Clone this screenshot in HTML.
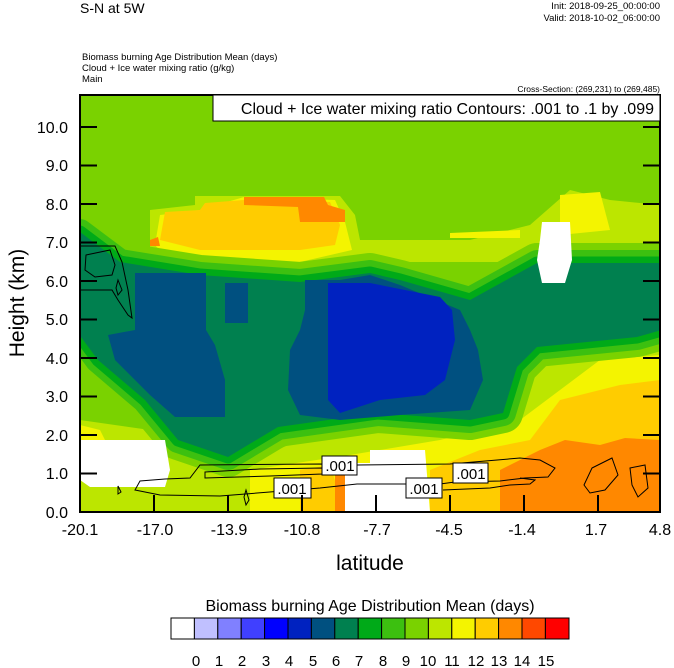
<!DOCTYPE html>
<html><head><meta charset="utf-8"><style>
html,body{margin:0;padding:0;background:#fff}
svg{display:block;font-family:"Liberation Sans",sans-serif}
</style></head><body>
<svg width="674" height="668" viewBox="0 0 674 668" xmlns="http://www.w3.org/2000/svg">
<text x="80" y="13" font-size="14">S-N at 5W</text>
<text x="660" y="9" font-size="9.5" text-anchor="end">Init: 2018-09-25_00:00:00</text>
<text x="660" y="21" font-size="9.5" text-anchor="end">Valid: 2018-10-02_06:00:00</text>
<text x="82" y="60" font-size="9.5">Biomass burning Age Distribution Mean   (days)</text>
<text x="82" y="71" font-size="9.5">Cloud + Ice water mixing ratio   (g/kg)</text>
<text x="82" y="82" font-size="9.5">Main</text>
<text x="660" y="92" font-size="8.5" text-anchor="end">Cross-Section: (269,231) to (269,485)</text>
<defs><clipPath id="c"><rect x="80" y="95" width="580" height="417"/></clipPath></defs>
<g clip-path="url(#c)">
<rect x="80" y="95" width="580" height="417" fill="#7ad200"/>
<!-- upper warm region -->
<path d="M150,240 L150,210 L195,205 L195,196 L340,196 L355,215 L360,240 L470,240 L530,225 L570,190 L610,200 L660,205 L660,262 L150,262Z" fill="#bce600"/>
<path d="M155,245 L160,215 L200,210 L244,197 L335,200 L345,222 L352,250 L300,262 L170,262Z" fill="#f4f400"/>
<path d="M160,240 L165,212 L200,210 L205,203 L244,200 L330,202 L340,225 L335,245 L300,250 L200,250Z" fill="#ffcc00"/>
<path d="M244,197 L324,197 L328,205 L345,210 L345,222 L300,222 L298,207 L244,205Z" fill="#ff8800"/>
<path d="M150,240 L158,237 L160,246 L150,246Z" fill="#ff8800"/>
<path d="M450,233 L520,230 L520,238 L450,238Z" fill="#f4f400"/>
<path d="M560,195 L600,192 L610,230 L560,235Z" fill="#f4f400"/>
<!-- lower warm region -->
<path d="M80,420 L150,430 L230,470 L300,440 L400,430 L450,380 L520,380 L600,330 L660,320 L660,512 L80,512Z" fill="#bce600"/>
<path d="M80,425 L100,430 L110,450 L80,450Z" fill="#f4f400"/>
<path d="M250,470 L350,455 L440,440 L520,420 L600,360 L660,355 L660,512 L250,512Z" fill="#f4f400"/>
<path d="M300,470 L330,465 L345,512 L300,512Z" fill="#ffcc00"/>
<path d="M430,470 L480,450 L530,440 L560,400 L620,385 L660,380 L660,512 L430,512Z" fill="#ffcc00"/>
<path d="M500,470 L540,450 L565,440 L600,445 L625,438 L660,440 L660,512 L500,512Z" fill="#ff8800"/>
<path d="M335,470 L345,468 L345,512 L335,512Z" fill="#ff8800"/>
<!-- teal blob with green bands -->
<g stroke-linejoin="round">
<path id="t" d="M80,232 L120,262 L200,275 L300,282 L370,273 L400,280 L470,300 L537,263 L600,263 L662,263 L662,330 L637,337 L537,347 L517,367 L503,413 L470,420 L378,413 L278,427 L228,457 L178,440 L145,400 L98,360 L78,333Z" fill="#7ad200" stroke="#7ad200" stroke-width="40"/>
<path d="M80,232 L120,262 L200,275 L300,282 L370,273 L400,280 L470,300 L537,263 L600,263 L662,263 L662,330 L637,337 L537,347 L517,367 L503,413 L470,420 L378,413 L278,427 L228,457 L178,440 L145,400 L98,360 L78,333Z" fill="#3cc010" stroke="#3cc010" stroke-width="26"/>
<path d="M80,232 L120,262 L200,275 L300,282 L370,273 L400,280 L470,300 L537,263 L600,263 L662,263 L662,330 L637,337 L537,347 L517,367 L503,413 L470,420 L378,413 L278,427 L228,457 L178,440 L145,400 L98,360 L78,333Z" fill="#00aa18" stroke="#00aa18" stroke-width="13"/>
<path d="M80,232 L120,262 L200,275 L300,282 L370,273 L400,280 L470,300 L537,263 L600,263 L662,263 L662,330 L637,337 L537,347 L517,367 L503,413 L470,420 L378,413 L278,427 L228,457 L178,440 L145,400 L98,360 L78,333Z" fill="#00804f"/>
</g>
<!-- light band at bottom left -->
<path d="M80,440 L165,440 L170,470 L165,487 L90,487 L80,480Z" fill="#fff"/>
<path d="M345,463 L378,463 L378,512 L345,512Z" fill="#fff"/>
<path d="M370,450 L425,450 L430,512 L370,512Z" fill="#fff"/>
<!-- blue blobs -->
<path d="M135,273 L206,273 L206,330 L215,345 L225,380 L225,417 L175,417 L150,395 L115,360 L108,335 L135,330Z" fill="#005080"/>
<path d="M225,283 L248,283 L248,323 L225,323Z" fill="#005080"/>
<path d="M175,285 L195,285 L195,318 L175,318Z" fill="#005080"/>
<path d="M305,280 L340,280 L370,275 L400,285 L460,310 L470,330 L478,350 L483,380 L470,410 L400,415 L340,420 L300,415 L288,390 L290,350 L300,330 L305,310Z" fill="#005080"/>
<path d="M328,283 L370,283 L440,297 L452,310 L455,340 L445,380 L425,395 L380,400 L340,413 L328,400Z" fill="#0022c0"/>
<!-- white blob -->
<path d="M542,222 L570,222 L572,260 L565,283 L542,283 L537,260 L540,240Z" fill="#fff"/>
<!-- contours -->
<g fill="none" stroke="#000" stroke-width="1">
<path d="M80,246 L115,246 L122,262 L128,290 L132,318 L128,315 L118,300 L112,290 L80,290"/>
<path d="M86,255 L110,250 L115,265 L112,275 L95,277 L85,270Z"/>
<path d="M118,280 L122,290 L118,295 L116,288Z"/>
<path d="M200,465 L320,464 L357,465 L450,464 L520,458 L540,460 L555,468 L548,477 L525,478 L500,481 L455,482 L440,484 L357,484 L320,488 L220,496 L160,495 L135,490 L140,481 L165,479 L190,478 L200,465Z"/>
<path d="M205,472 L260,469 L322,468 L322,474 L270,476 L205,478Z"/>
<path d="M443,490 L490,488 L510,485 L530,484 L535,480 L520,478"/>
<path d="M592,468 L612,458 L618,475 L605,490 L590,493 L584,485Z"/>
<path d="M630,468 L645,465 L648,488 L638,497 L632,485Z"/>
<path d="M246,490 L249,500 L246,505 L244,497Z"/>
<path d="M118,486 L121,492 L118,494Z"/>
<path d="M660,400 L663,410 L660,418"/>
</g>
<g font-size="15" text-anchor="middle">
<rect x="322" y="456" width="35" height="19" fill="#fff" stroke="#000"/><text x="340" y="471">.001</text>
<rect x="274" y="478" width="37" height="20" fill="#fff" stroke="#000"/><text x="292" y="494">.001</text>
<rect x="406" y="478" width="36" height="20" fill="#fff" stroke="#000"/><text x="424" y="494">.001</text>
<rect x="453" y="463" width="35" height="20" fill="#fff" stroke="#000"/><text x="471" y="479">.001</text>
</g>
</g>
<rect x="80" y="95" width="580" height="417" fill="none" stroke="#000" stroke-width="2"/>
<rect x="213" y="95" width="447" height="26" fill="#fff" stroke="#000" stroke-width="1"/>
<text x="654" y="114" font-size="16" text-anchor="end">Cloud + Ice water mixing ratio Contours: .001 to .1 by .099</text>
<!-- y ticks -->
<g stroke="#000" stroke-width="2">
<path d="M80,512h17M80,473.5h17M80,435h17M80,396.5h17M80,358h17M80,319.5h17M80,281h17M80,242.5h17M80,204h17M80,165.5h17M80,127h17"/>
<path d="M660,512h-17M660,473.5h-17M660,435h-17M660,396.5h-17M660,358h-17M660,319.5h-17M660,281h-17M660,242.5h-17M660,204h-17M660,165.5h-17M660,127h-17"/>
<path d="M154,512v-17M228,512v-17M302,512v-17M376,512v-17M450,512v-17M524,512v-17M598,512v-17"/>
</g>
<g font-size="16" text-anchor="end">
<text x="68" y="518">0.0</text><text x="68" y="479">1.0</text><text x="68" y="441">2.0</text>
<text x="68" y="402">3.0</text><text x="68" y="364">4.0</text><text x="68" y="325">5.0</text>
<text x="68" y="287">6.0</text><text x="68" y="248">7.0</text><text x="68" y="210">8.0</text>
<text x="68" y="171">9.0</text><text x="68" y="133">10.0</text>
</g>
<g font-size="16" text-anchor="middle">
<text x="80" y="535">-20.1</text><text x="155" y="535">-17.0</text><text x="229" y="535">-13.9</text>
<text x="302" y="535">-10.8</text><text x="377" y="535">-7.7</text><text x="449" y="535">-4.5</text>
<text x="522" y="535">-1.4</text><text x="596" y="535">1.7</text><text x="660" y="535">4.8</text>
</g>
<text x="370" y="570" font-size="21" text-anchor="middle">latitude</text>
<text transform="translate(24,303) rotate(-90)" font-size="21" text-anchor="middle">Height (km)</text>
<text x="370" y="611" font-size="16" text-anchor="middle">Biomass burning Age Distribution Mean  (days)</text>
<g stroke="#000" stroke-width="1">
<rect x="171" y="618" width="23.4" height="21" fill="#fff"/>
<rect x="194.4" y="618" width="23.4" height="21" fill="#c0c0ff"/>
<rect x="217.8" y="618" width="23.4" height="21" fill="#8080ff"/>
<rect x="241.2" y="618" width="23.4" height="21" fill="#4040ff"/>
<rect x="264.6" y="618" width="23.4" height="21" fill="#0000ff"/>
<rect x="288" y="618" width="23.4" height="21" fill="#0022c0"/>
<rect x="311.4" y="618" width="23.4" height="21" fill="#005080"/>
<rect x="334.8" y="618" width="23.4" height="21" fill="#00804f"/>
<rect x="358.2" y="618" width="23.4" height="21" fill="#00aa18"/>
<rect x="381.6" y="618" width="23.4" height="21" fill="#3cc010"/>
<rect x="405" y="618" width="23.4" height="21" fill="#7ad200"/>
<rect x="428.4" y="618" width="23.4" height="21" fill="#bce600"/>
<rect x="451.8" y="618" width="23.4" height="21" fill="#f4f400"/>
<rect x="475.2" y="618" width="23.4" height="21" fill="#ffcc00"/>
<rect x="498.6" y="618" width="23.4" height="21" fill="#ff8800"/>
<rect x="522" y="618" width="23.4" height="21" fill="#ff4800"/>
<rect x="545.4" y="618" width="23.6" height="21" fill="#ff0000"/>
</g>
<g font-size="15" text-anchor="middle">
<text x="196" y="666">0</text><text x="219" y="666">1</text><text x="242" y="666">2</text><text x="266" y="666">3</text>
<text x="289" y="666">4</text><text x="313" y="666">5</text><text x="336" y="666">6</text><text x="359" y="666">7</text>
<text x="383" y="666">8</text><text x="406" y="666">9</text><text x="428" y="666">10</text><text x="452" y="666">11</text>
<text x="476" y="666">12</text><text x="499" y="666">13</text><text x="522" y="666">14</text><text x="546" y="666">15</text>
</g>
</svg>
</body></html>
